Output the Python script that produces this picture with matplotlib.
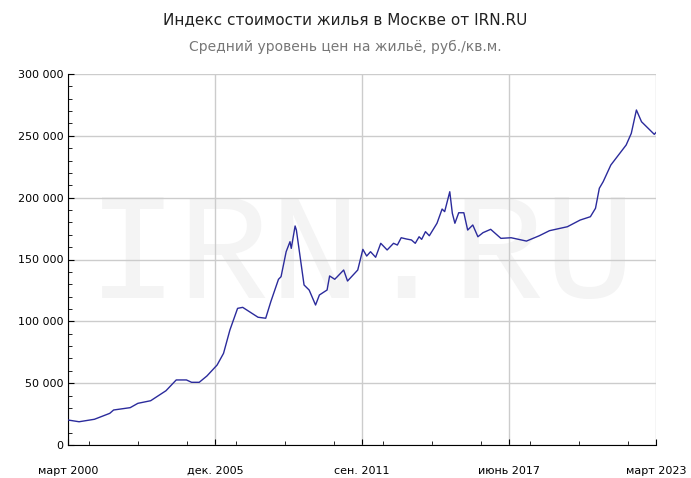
import numpy as np
import matplotlib
matplotlib.use('Agg')
import matplotlib.pyplot as plt
from matplotlib.ticker import MultipleLocator, FuncFormatter

# decimal year / price per sq.m.
years = [2000.17, 2000.6, 2001.2, 2001.8, 2001.95, 2002.6, 2002.9, 2003.4, 2004.0, 2004.4,
         2004.8, 2005.0, 2005.3, 2005.6, 2006.0, 2006.25, 2006.5, 2006.8, 2007.0, 2007.6,
         2007.9, 2008.1, 2008.4, 2008.5, 2008.7, 2008.85, 2008.9, 2009.05, 2009.1, 2009.4,
         2009.6, 2009.85, 2010.0, 2010.2, 2010.3, 2010.4, 2010.6, 2010.7, 2010.95, 2011.1,
         2011.5, 2011.7, 2011.85, 2012.0, 2012.2, 2012.4, 2012.65, 2012.9, 2013.05, 2013.2,
         2013.4, 2013.6, 2013.75, 2013.9, 2014.0, 2014.15, 2014.3, 2014.6, 2014.8, 2014.9,
         2015.1, 2015.2, 2015.3, 2015.45, 2015.65, 2015.8, 2016.0, 2016.2, 2016.4, 2016.7,
         2017.1, 2017.5, 2018.1, 2018.6, 2019.0, 2019.7, 2020.2, 2020.6, 2020.8, 2020.95,
         2021.1, 2021.4, 2022.0, 2022.2, 2022.4, 2022.6, 2023.1, 2023.17]
prices = [20200, 18800, 20800, 25600, 28300, 30200, 33700, 35800, 43900, 52600,
          52600, 50700, 50700, 55800, 64700, 74100, 93000, 110500, 111300, 103300,
          102500, 115900, 134000, 136100, 156300, 164400, 159000, 177100, 173800, 129400,
          125300, 113200, 121300, 124000, 125300, 136700, 134000, 136100, 141500, 132600,
          141500, 158200, 152800, 156300, 151800, 163100, 157700, 163100, 161700, 167600,
          166600, 165800, 163100, 168400, 166300, 172500, 169200, 179300, 190800, 188700,
          204800, 187400, 179300, 187800, 187800, 173800, 177900, 168400, 171700, 174400,
          167100, 167600, 164900, 169200, 173300, 176500, 181900, 184600, 191400, 207600,
          212900, 226400, 242600, 252000, 270900, 261400, 251200, 252800]

x_start, x_end = 2000 + 2/12, 2023 + 2/12
tick_pos = np.linspace(x_start, x_end, 5)
tick_labels = ['март 2000', 'дек. 2005', 'сен. 2011', 'июнь 2017', 'март 2023']

fig = plt.figure(figsize=(6.91, 4.78), dpi=100)
ax = fig.add_axes([68/691, 1-445/478, 588/691, 371/478])

ax.text(0.5, 0.5, 'IRN.RU', transform=ax.transAxes, ha='center', va='center',
        fontsize=110, color='#f4f4f4', family='Liberation Mono', zorder=0)
ax.plot(years, prices, color='#2b2b9c', lw=1.0, zorder=3)

ax.set_xlim(x_start, x_end)
ax.set_ylim(0, 300000)
ax.set_xticks(tick_pos)
ax.set_xticklabels(tick_labels, fontsize=8)
ax.xaxis.set_minor_locator(MultipleLocator((x_end - x_start) / 12))
ax.yaxis.set_major_locator(MultipleLocator(50000))
ax.yaxis.set_minor_locator(MultipleLocator(10000))
ax.yaxis.set_major_formatter(FuncFormatter(lambda v, p: f'{int(v):,}'.replace(',', ' ')))
ax.tick_params(axis='y', labelsize=8)
ax.tick_params(which='major', length=4, direction='in')
ax.tick_params(which='minor', length=3, direction='in')
ax.tick_params(axis='x', pad=15)
ax.grid(True, which='major', color='#cccccc', lw=1)
ax.set_axisbelow(True)
for s in ['top', 'right']:
    ax.spines[s].set_visible(False)

fig.text(0.5, 1-20/478, 'Индекс стоимости жилья в Москве от IRN.RU', ha='center',
         va='center', fontsize=11, color='#222222')
fig.text(0.5, 1-47/478, 'Средний уровень цен на жильё, руб./кв.м.', ha='center',
         va='center', fontsize=10, color='#777777')

fig.savefig('out.png', dpi=100)
